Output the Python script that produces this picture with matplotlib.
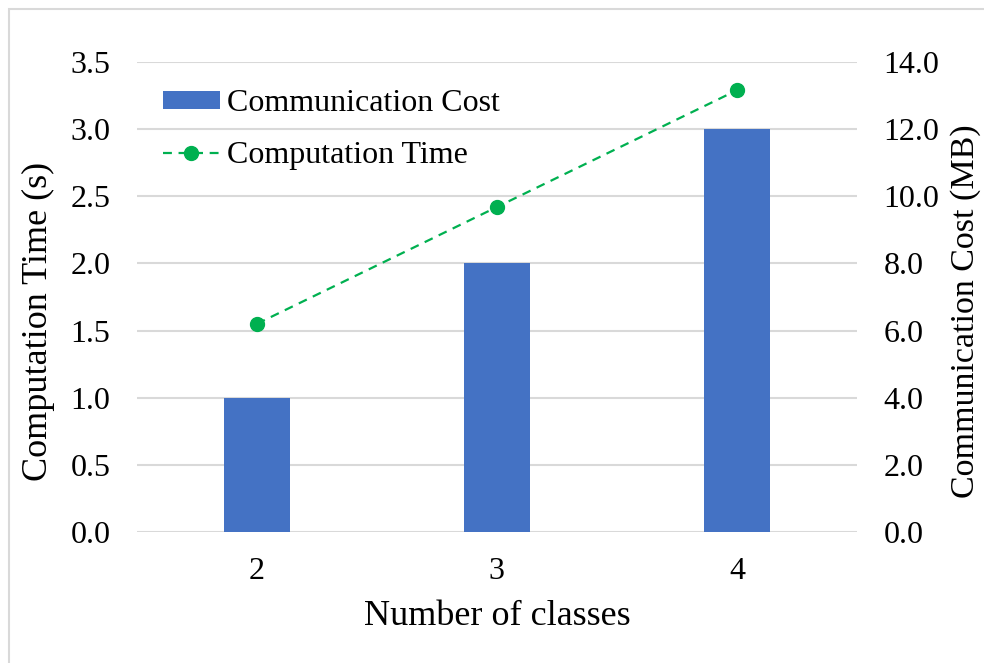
import numpy as np
import matplotlib.pyplot as plt
from matplotlib.patches import Rectangle

plt.rcParams.update({
    'font.family': 'serif',
    'font.serif': ['Liberation Serif', 'DejaVu Serif'],
    'font.size': 23,
})

# Datos
classes = ['2', '3', '4']
comm_cost_mb = [4.0, 8.0, 12.0]          # barras, eje derecho
comp_time_s = [1.55, 2.42, 3.29]         # línea, eje izquierdo

BAR_COLOR = '#4472C4'
LINE_COLOR = '#00B050'
GRID_COLOR = '#D9D9D9'

fig = plt.figure(figsize=(9.84, 6.63), dpi=100)
fig.patch.set_facecolor('white')
# borde gris del gráfico (estilo Excel), recortado abajo y a la derecha
fig.add_artist(Rectangle((0.009, -0.1), 1.2, 1.0864, transform=fig.transFigure,
                         fill=False, edgecolor=GRID_COLOR, lw=1.5))

ax = fig.add_axes([0.139, 0.1976, 0.732, 0.7089])
ax2 = ax.twinx()

x = np.arange(len(classes))

# Barras en el eje derecho, línea en el izquierdo (encima)
ax2.bar(x, comm_cost_mb, width=0.275, color=BAR_COLOR, zorder=2,
        label='Communication Cost')
ax2.set_ylim(0, 14)
ax2.set_yticks(np.arange(0, 14.1, 2))
ax2.set_yticklabels([f'{v:.1f}' for v in np.arange(0, 14.1, 2)])

ax.set_ylim(0, 3.5)
ax.set_yticks(np.arange(0, 3.51, 0.5))
ax.set_yticklabels([f'{v:.1f}' for v in np.arange(0, 3.51, 0.5)])
ax.set_xlim(-0.5, 2.5)
ax.set_xticks(x)
ax.set_xticklabels(classes)

for a in (ax, ax2):
    for s in a.spines.values():
        s.set_visible(False)
    a.tick_params(length=0)
ax.tick_params(axis='y', pad=19)
ax.tick_params(axis='x', pad=18)
ax2.tick_params(axis='y', pad=19)

# rejilla detrás de las barras
for v in np.arange(0, 3.51, 0.5):
    ax2.axhline(v * 4, color=GRID_COLOR, lw=1.5, zorder=1)

ax2.set_zorder(1)
ax.set_zorder(2)
ax.patch.set_visible(False)

ax.plot(x, comp_time_s, color=LINE_COLOR, ls=(0, (4, 3)), lw=1.6,
        marker='o', ms=10, label='Computation Time', zorder=3)

ax.set_xlabel('Number of classes', fontsize=26, labelpad=10)
ax.set_ylabel('Computation Time (s)', fontsize=26)
ax.yaxis.set_label_coords(-0.114, 0.449)
ax2.set_ylabel('Communication Cost (MB)', fontsize=24.5)
ax2.yaxis.set_label_coords(1.13, 0.47)

h1, l1 = ax2.get_legend_handles_labels()
h2, l2 = ax.get_legend_handles_labels()
ax.legend(h1 + h2, l1 + l2, loc='upper left', frameon=False,
          bbox_to_anchor=(-0.004, 1.003), handlelength=1.8, handleheight=0.45,
          handletextpad=0.2, labelspacing=0.72, fontsize=23)

fig.savefig('out.png', dpi=100)
